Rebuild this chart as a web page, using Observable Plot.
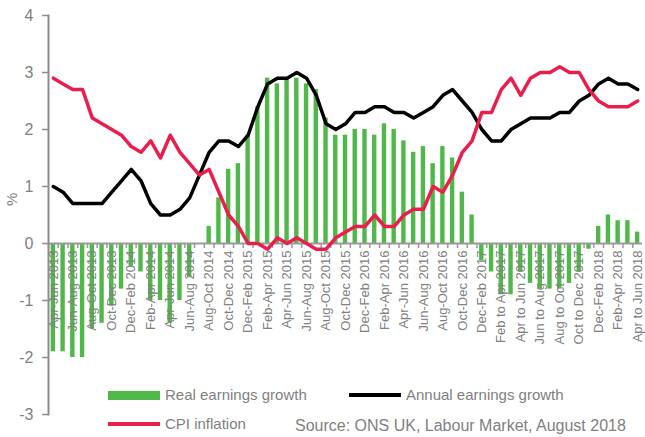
<!DOCTYPE html>
<html><head><meta charset="utf-8">
<script src="https://cdn.jsdelivr.net/npm/d3@7"></script>
<script src="https://cdn.jsdelivr.net/npm/@observablehq/plot@0.6"></script>
<style>
html,body{margin:0;padding:0;background:#fff;}
#wrap{position:relative;width:645px;height:437px;overflow:hidden;font-family:"Liberation Sans",Arial,sans-serif;color:#808080;}
.lg{position:absolute;font-size:15px;line-height:18px;white-space:nowrap;color:#7f7f7f;}
.sw{position:absolute;}
#wrap svg{position:absolute;left:0;top:0;}
</style></head><body><div id="wrap"></div>
<script>
const periods = [
"Apr-Jun 2013","May-Jul 2013","Jun-Aug 2013","Jul-Sep 2013","Aug-Oct 2013","Sep-Nov 2013","Oct-Dec 2013","Nov-Jan 2014","Dec-Feb 2014","Jan-Mar 2014",
"Feb-Apr 2014","Mar-May 2014","Apr-Jun 2014","May-Jul 2014","Jun-Aug 2014","Jul-Sep 2014","Aug-Oct 2014","Sep-Nov 2014","Oct-Dec 2014","Nov-Jan 2015",
"Dec-Feb 2015","Jan-Mar 2015","Feb-Apr 2015","Mar-May 2015","Apr-Jun 2015","May-Jul 2015","Jun-Aug 2015","Jul-Sep 2015","Aug-Oct 2015","Sep-Nov 2015",
"Oct-Dec 2015","Nov-Jan 2016","Dec-Feb 2016","Jan-Mar 2016","Feb-Apr 2016","Mar-May 2016","Apr-Jun 2016","May-Jul 2016","Jun-Aug 2016","Jul-Sep 2016",
"Aug-Oct 2016","Sep-Nov 2016","Oct-Dec 2016","Nov-Jan 2017","Dec-Feb 2017","Jan-Mar 2017","Feb to Apr 2017","Mar to May 2017","Apr to Jun 2017","May to Jul 2017",
"Jun to Aug 2017","Jul to Sep 2017","Aug to Oct 2017","Sep to Nov 2017","Oct to Dec 2017","Nov to Jan 2018","Dec-Feb 2018","Jan-Mar 2018","Feb-Apr 2018","Mar-May 2018",
"Apr to Jun 2018"];
const tickLabels = [
"Apr-Jun 2013","Jun-Aug 2013","Aug-Oct 2013","Oct-Dec 2013","Dec-Feb 2014","Feb-Apr 2014","Apr-Jun 2014","Jun-Aug 2014",
"Aug-Oct 2014","Oct-Dec 2014","Dec-Feb 2015","Feb-Apr 2015","Apr-Jun 2015","Jun-Aug 2015","Aug-Oct 2015","Oct-Dec 2015",
"Dec-Feb 2016","Feb-Apr 2016","Apr-Jun 2016","Jun-Aug 2016","Aug-Oct 2016","Oct-Dec 2016","Dec-Feb 2017","Feb to Apr 2017",
"Apr to Jun 2017","Jun to Aug 2017","Aug to Oct 2017","Oct to Dec 2017","Dec-Feb 2018","Feb-Apr 2018","Apr to Jun 2018"];
const realEarnings = [
-1.9,-1.9,-2.0,-2.0,-1.5,-1.4,-1.1,-0.8,-0.4,-0.5,
-1.0,-1.0,-1.4,-1.0,-0.6,0.0,0.3,0.8,1.3,1.4,
1.9,2.4,2.9,2.8,2.9,2.9,2.8,2.7,2.2,1.9,
1.9,2.0,2.0,1.9,2.1,2.0,1.8,1.6,1.7,1.4,
1.7,1.5,0.9,0.5,-0.3,-0.5,-0.9,-0.9,-0.5,-0.7,
-0.8,-0.8,-0.8,-0.7,-0.5,-0.1,0.3,0.5,0.4,0.4,
0.2];
const annualEarnings = [
1.0,0.9,0.7,0.7,0.7,0.7,0.9,1.1,1.3,1.1,
0.7,0.5,0.5,0.6,0.8,1.2,1.6,1.8,1.8,1.7,
1.9,2.4,2.8,2.9,2.9,3.0,2.9,2.6,2.1,2.0,
2.1,2.3,2.3,2.4,2.4,2.3,2.3,2.2,2.3,2.4,
2.6,2.7,2.5,2.3,2.0,1.8,1.8,2.0,2.1,2.2,
2.2,2.2,2.3,2.3,2.5,2.6,2.8,2.9,2.8,2.8,
2.7];
const cpiInflation = [
2.9,2.8,2.7,2.7,2.2,2.1,2.0,1.9,1.7,1.6,
1.8,1.5,1.9,1.6,1.4,1.2,1.3,0.9,0.5,0.3,
0.0,0.0,-0.1,0.1,0.0,0.1,0.0,-0.1,-0.1,0.1,
0.2,0.3,0.3,0.5,0.3,0.3,0.5,0.6,0.6,1.0,
0.9,1.2,1.6,1.8,2.3,2.3,2.7,2.9,2.6,2.9,
3.0,3.0,3.1,3.0,3.0,2.7,2.5,2.4,2.4,2.4,
2.5];
const yTicks = [-3,-2,-1,0,1,2,3,4];

const rows = periods.map((p,i)=>({period:p, real:realEarnings[i], annual:annualEarnings[i], cpi:cpiInflation[i]}));
const W=645, H=437, ML=48, MR=3;
const step = (W-ML-MR)/periods.length;
const font = '"Liberation Sans", Arial, sans-serif';
const grey = "#808080";
const axisGrey = "#8c8c8c";

const chart = Plot.plot({
  width:W, height:H, marginLeft:ML, marginRight:MR, marginTop:15, marginBottom:23,
  style:{fontFamily:font, background:"transparent", overflow:"visible"},
  x:{type:"band", domain:periods, paddingInner:0.55, paddingOuter:0.275, axis:null},
  y:{domain:[-3,4], axis:null},
  marks:[
    Plot.barY(rows,{x:"period", y:"real", fill:"#4fb848"}),
    Plot.ruleY([0],{stroke:"#9a9a9a", strokeWidth:2}),
    Plot.ruleX(periods,{x:d=>d, y1:()=>0, y2:()=>0, insetBottom:-5, dx:-step/2, stroke:"#9a9a9a", strokeWidth:1.5}),
    Plot.text(tickLabels,{x:d=>d, y:()=>0, text:d=>d, rotate:-90, textAnchor:"end", dy:7, fontSize:13, fill:grey}),
    Plot.frame({anchor:"left", stroke:axisGrey, strokeWidth:2}),
    Plot.ruleY(yTicks,{y:d=>d, insetLeft:-6, insetRight:W-ML-MR, stroke:axisGrey, strokeWidth:1.5}),
    Plot.text(yTicks,{y:d=>d, text:d=>String(d), frameAnchor:"left", textAnchor:"end", dx:-15, fontSize:16, fill:grey}),
    Plot.text(["%"],{frameAnchor:"left", dx:-36, dy:-9, rotate:-90, fontSize:15, fill:grey}),
    Plot.line(rows,{x:"period", y:"annual", stroke:"#000", strokeWidth:3.5, strokeLinejoin:"round"}),
    Plot.line(rows,{x:"period", y:"cpi", stroke:"#ea1e4c", strokeWidth:3.5, strokeLinejoin:"round"})
  ]
});
const wrap = document.getElementById("wrap");
wrap.appendChild(chart);

const legend = [
  {kind:"bar", color:"#4fb848", label:"Real earnings growth", sx:108, tx:165, cy:395},
  {kind:"line", color:"#000", label:"Annual earnings growth", sx:349, tx:406, cy:395},
  {kind:"line", color:"#ea1e4c", label:"CPI inflation", sx:108, tx:165, cy:424}
];
for (const l of legend) {
  const s = document.createElement("div");
  s.className = "sw";
  const h = l.kind==="bar" ? 9 : 3.5;
  s.style.cssText = `left:${l.sx}px;top:${l.cy-h/2}px;width:52px;height:${h}px;background:${l.color};`;
  wrap.appendChild(s);
  const t = document.createElement("div");
  t.className = "lg";
  t.style.left = l.tx+"px"; t.style.top = (l.cy-9)+"px";
  t.textContent = l.label;
  wrap.appendChild(t);
}
const src = document.createElement("div");
src.className = "lg";
src.style.cssText = "left:295px;top:417px;font-size:16px;";
src.textContent = "Source: ONS UK, Labour Market, August 2018";
wrap.appendChild(src);
</script></body></html>
